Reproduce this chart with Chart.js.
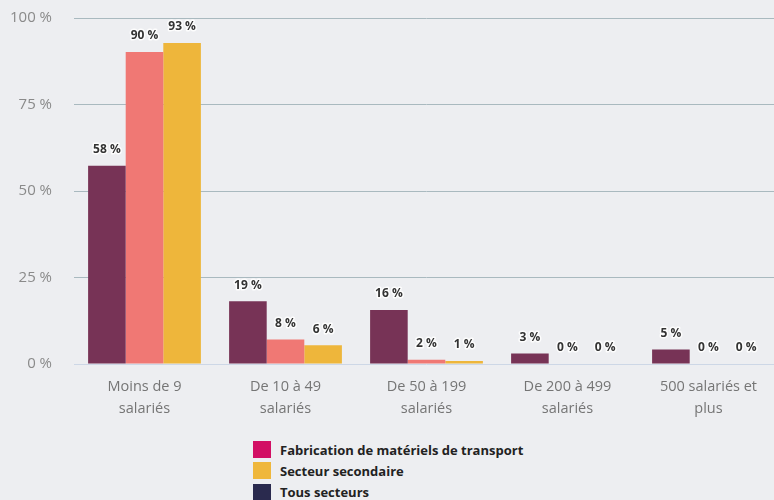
<!DOCTYPE html>
<html><head><meta charset="utf-8">
<script src="https://cdn.jsdelivr.net/npm/chart.js@4/dist/chart.umd.min.js"></script>
<style>
html,body{margin:0;padding:0;background:#edeef1;overflow:hidden;width:774px;height:500px;}
#wrap{position:absolute;left:0;top:0;width:779px;height:432px;}
#legend{position:absolute;left:253px;top:439px;font-family:'Open Sans',sans-serif;font-weight:bold;font-size:13px;color:#222;}
.row{height:21.3px;display:flex;align-items:center;}
.sw{width:18px;height:17px;margin-right:9px;}
</style></head><body>
<div id="wrap"><canvas id="c" width="779" height="432"></canvas></div>
<div id="legend"></div>
<script>
const categories = [["Moins de 9","salariés"],["De 10 à 49","salariés"],["De 50 à 199","salariés"],["De 200 à 499","salariés"],["500 salariés et","plus"]];
const yTicks = [0,25,50,75,100];
const seriesA = [57.3, 18.1, 15.6, 3.0, 4.2];
const seriesB = [90.2, 7.1, 1.2, 0, 0];
const seriesC = [92.8, 5.4, 0.9, 0, 0];
const labelsA = ["58 %","19 %","16 %","3 %","5 %"];
const labelsB = ["90 %","8 %","2 %","0 %","0 %"];
const labelsC = ["93 %","6 %","1 %","0 %","0 %"];
const legendNames = ["Fabrication de matériels de transport","Secteur secondaire","Tous secteurs"];
const legendColors = ["#d20f64","#efb73c","#2a2a4e"];
const barColors = ["#773356","#f07874","#eeb63b"];

const lg = document.getElementById('legend');
legendNames.forEach((n,i)=>{
  const r=document.createElement('div');r.className='row';
  const s=document.createElement('div');s.className='sw';s.style.background=legendColors[i];
  const t=document.createElement('span');t.textContent=n;
  r.appendChild(s);r.appendChild(t);lg.appendChild(r);
});

const valueLabels = {
  id:'valueLabels',
  afterDatasetsDraw(chart){
    const ctx=chart.ctx;
    ctx.save();
    ctx.font="bold 12px 'Open Sans', sans-serif";
    ctx.textAlign='center';ctx.textBaseline='middle';
    chart.data.datasets.forEach((ds,di)=>{
      const meta=chart.getDatasetMeta(di);
      meta.data.forEach((bar,i)=>{
        const txt=ds.valueLabels[i];
        const y=bar.y-16;
        ctx.lineWidth=3;ctx.strokeStyle='rgba(255,255,255,0.85)';ctx.lineJoin='round';
        ctx.strokeText(txt,bar.x,y);
        ctx.fillStyle='#333';
        ctx.fillText(txt,bar.x,y);
      });
    });
    ctx.restore();
  }
};

const chart = new Chart(document.getElementById('c'),{
  type:'bar',
  data:{
    labels:categories,
    datasets:[
      {label:legendNames[0],data:seriesA,backgroundColor:barColors[0],valueLabels:labelsA},
      {label:legendNames[1],data:seriesB,backgroundColor:barColors[1],valueLabels:labelsB},
      {label:legendNames[2],data:seriesC,backgroundColor:barColors[2],valueLabels:labelsC}
    ]
  },
  options:{
    responsive:false,animation:false,
    layout:{padding:{top:18,left:0,right:0,bottom:0}},
    datasets:{bar:{categoryPercentage:0.8,barPercentage:1.0}},
    plugins:{legend:{display:false},tooltip:{enabled:false}},
    scales:{
      x:{
        grid:{display:false},border:{display:false},
        ticks:{color:'#757575',font:{family:"'Open Sans', sans-serif",size:14.5,lineHeight:1.5},padding:4,maxRotation:0,autoSkip:false},
        afterFit(s){s.height=68;s.paddingTop=0;s.paddingBottom=0;}
      },
      y:{
        min:0,max:100,
        afterBuildTicks(s){s.ticks=yTicks.map(v=>({value:v}));},
        grid:{color:(c)=>c.tick&&c.tick.value===0?'#cdd7e6':'#a9b9bf',drawTicks:false,lineWidth:1},
        border:{display:false},
        ticks:{color:'#8a8a8a',font:{family:"'Open Sans', sans-serif",size:15},padding:22,callback:(v)=>v+' %'},
        afterFit(s){s.width=74;s.paddingTop=0;s.paddingBottom=0;}
      }
    }
  },
  plugins:[valueLabels]
});
</script>
</body></html>
